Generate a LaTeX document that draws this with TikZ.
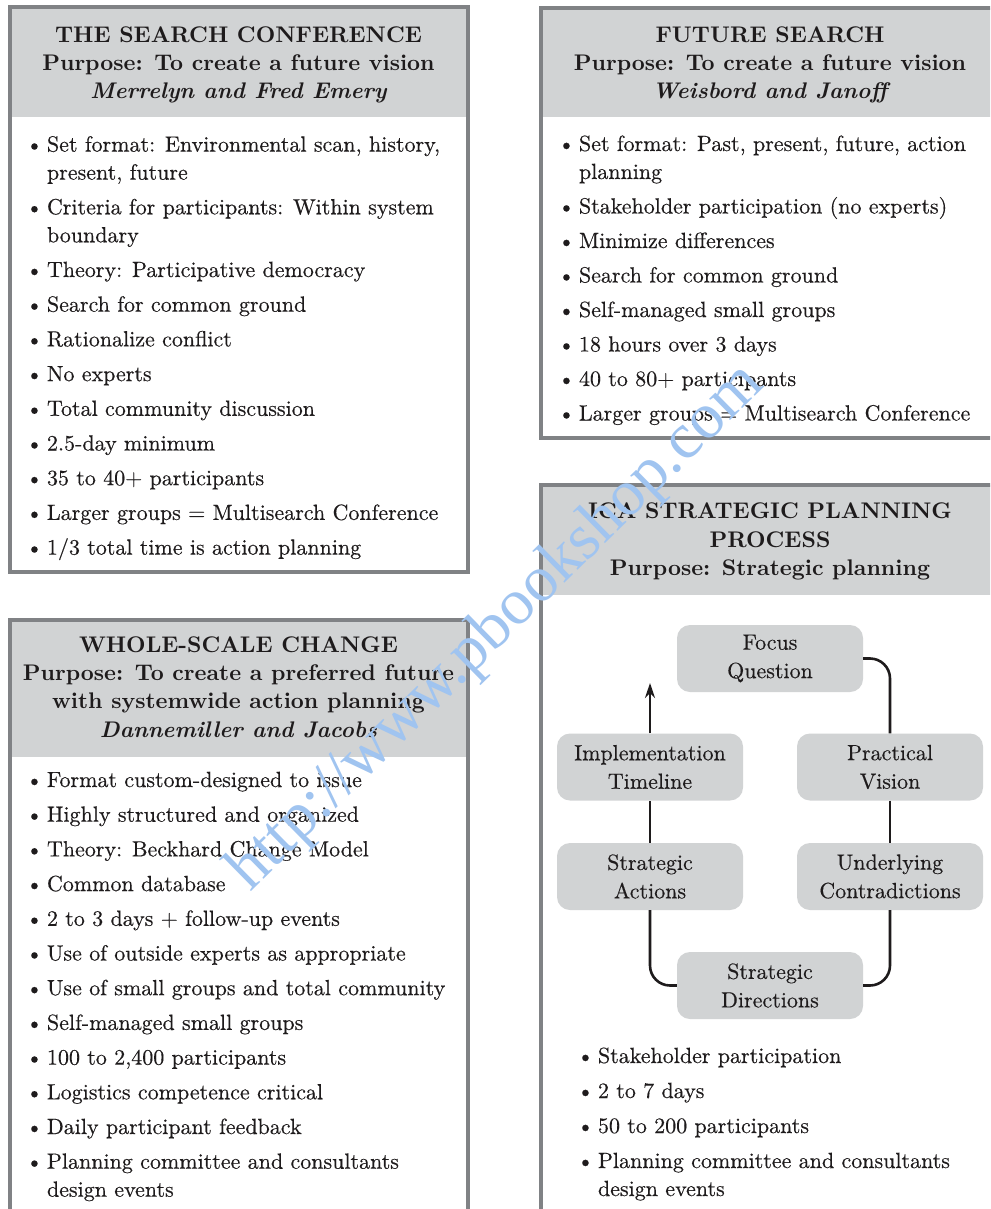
\documentclass[tikz,border=0pt]{standalone}
\usepackage{fontspec}
\setmainfont{lmroman10-regular.otf}[BoldFont=lmroman10-bold.otf, ItalicFont=lmroman10-italic.otf, BoldItalicFont=lmroman10-bolditalic.otf]
\newfontfamily\bodyfont{lmroman10-regular.otf}[FakeBold=0.35]
\newfontfamily\wmfont{Liberation Serif}
\usetikzlibrary{arrows.meta}
\definecolor{hdr}{RGB}{209,211,212}
\definecolor{bord}{RGB}{128,130,133}
\definecolor{ink}{RGB}{30,27,28}
\definecolor{wmc}{RGB}{160,196,240}
\tikzset{
 txt/.style={anchor=base west, inner sep=0pt, outer sep=0pt, text=ink, font=\bodyfont\fontsize{22}{28}\selectfont},
 hd/.style={anchor=base, inner sep=0pt, outer sep=0pt, text=ink, font=\fontsize{22.6}{28}\selectfont\bfseries},
 hdi/.style={hd, font=\fontsize{22.6}{28}\selectfont\bfseries\itshape},
 frame/.style={draw=bord, line width=4pt},
 hdrfill/.style={fill=hdr},
 proc/.style={rounded corners=13pt, fill=hdr, minimum width=186pt, minimum height=67pt, align=center, inner sep=0pt, text=ink, font=\bodyfont\fontsize{22}{28.5}\selectfont},
 conn/.style={draw=ink, line width=2.6pt, rounded corners=20pt},
 wm/.style={text=wmc, font=\wmfont\fontsize{65}{65}\selectfont, inner sep=0pt}
}
\newcommand\bul{\llap{\textbullet\hspace{4pt}}}
\begin{document}
\begin{tikzpicture}[x=1pt,y=-1pt]
\useasboundingbox (0,0) rectangle (990,1209);
\clip (0,0) rectangle (990,1209);
\fill[white] (0,0) rectangle (990,1209);
% ---------- Box 1: Search Conference
\fill[hdrfill] (9.5,7.5) rectangle (467.5,117);
\draw[frame] (9.5,7.5) rectangle (467.5,572);
\node[hd] (ha1) at (238.5,42.5) {THE SEARCH CONFERENCE};
\node[hd] (ha2) at (238.5,70.5) {Purpose: To create a future vision};
\node[hdi] (ha3) at (238.5,98.5) {Merrelyn and Fred Emery};
\node[txt] (a1) at (47,151.6) {\bul Set format: Environmental scan, history,};
\node[txt] (a2) at (47,179.6) {present, future};
\node[txt] (a3) at (47,214.3) {\bul Criteria for participants: Within system};
\node[txt] (a4) at (47,242.3) {boundary};
\node[txt] (a5) at (47,277) {\bul Theory: Participative democracy};
\node[txt] (a6) at (47,311.7) {\bul Search for common ground};
\node[txt] (a7) at (47,346.4) {\bul Rationalize conflict};
\node[txt] (a8) at (47,381.1) {\bul No experts};
\node[txt] (a9) at (47,415.8) {\bul Total community discussion};
\node[txt] (a10) at (47,450.5) {\bul 2.5-day minimum};
\node[txt] (a11) at (47,485.2) {\bul 35 to 40+ participants};
\node[txt] (a12) at (47,519.9) {\bul Larger groups = Multisearch Conference};
\node[txt] (a13) at (47,554.6) {\bul 1/3 total time is action planning};
% ---------- Box 2: Whole-scale change
\fill[hdrfill] (9.5,620) rectangle (467.5,757);
\draw[frame] (9.5,1240) -- (9.5,620) -- (467.5,620) -- (467.5,1240);
\node[hd] (hb1) at (238.5,652) {WHOLE-SCALE CHANGE};
\node[hd] (hb2) at (238.5,680) {Purpose: To create a preferred future};
\node[hd] (hb3) at (238.5,708.5) {with systemwide action planning};
\node[hdi] (hb4) at (238.5,737) {Dannemiller and Jacobs};
\node[txt] (b1) at (47,787) {\bul Format custom-designed to issue};
\node[txt] (b2) at (47,821.7) {\bul Highly structured and organized};
\node[txt] (b3) at (47,856.4) {\bul Theory: Beckhard Change Model};
\node[txt] (b4) at (47,891.1) {\bul Common database};
\node[txt] (b5) at (47,925.8) {\bul 2 to 3 days + follow-up events};
\node[txt] (b6) at (47,960.5) {\bul Use of outside experts as appropriate};
\node[txt] (b7) at (47,995.2) {\bul Use of small groups and total community};
\node[txt] (b8) at (47,1029.9) {\bul Self-managed small groups};
\node[txt] (b9) at (47,1064.6) {\bul 100 to 2,400 participants};
\node[txt] (b10) at (47,1099.3) {\bul Logistics competence critical};
\node[txt] (b11) at (47,1134) {\bul Daily participant feedback};
\node[txt] (b12) at (47,1168.7) {\bul Planning committee and consultants};
\node[txt] (b13) at (47,1196.7) {design events};
% ---------- Box 3: Future Search
\fill[hdrfill] (541,8) rectangle (1000,117);
\draw[frame] (1010,8) -- (541,8) -- (541,438) -- (1010,438);
\node[hd] (hc1) at (770,42.5) {FUTURE SEARCH};
\node[hd] (hc2) at (770,70.5) {Purpose: To create a future vision};
\node[hdi] (hc3) at (770,98.5) {Weisbord and Janoff};
\node[txt] (c1) at (579,151) {\bul Set format: Past, present, future, action};
\node[txt] (c2) at (579,179) {planning};
\node[txt] (c3) at (579,213.5) {\bul Stakeholder participation (no experts)};
\node[txt] (c4) at (579,248) {\bul Minimize differences};
\node[txt] (c5) at (579,282.5) {\bul Search for common ground};
\node[txt] (c6) at (579,317) {\bul Self-managed small groups};
\node[txt] (c7) at (579,351.5) {\bul 18 hours over 3 days};
\node[txt] (c8) at (579,386) {\bul 40 to 80+ participants};
\node[txt] (c9) at (579,420.5) {\bul Larger groups = Multisearch Conference};
% ---------- Box 4: ICA
\fill[hdrfill] (541,485) rectangle (1000,595);
\draw[frame] (1010,485) -- (541,485) -- (541,1240);
\node[hd] (hd1) at (770,518) {ICA STRATEGIC PLANNING};
\node[hd] (hd2) at (770,547) {PROCESS};
\node[hd] (hd3) at (770,575) {Purpose: Strategic planning};
\node[proc] (FQ) at (770,658.5) {Focus\\Question};
\node[proc] (IT) at (650,767) {Implementation\\Timeline};
\node[proc] (PV) at (890,767) {Practical\\Vision};
\node[proc] (SA) at (650,876.5) {Strategic\\Actions};
\node[proc] (UC) at (890,876.5) {Underlying\\Contradictions};
\node[proc] (SD) at (770,985.5) {Strategic\\Directions};
\coordinate (tip) at (650,683);
\draw[conn] (FQ.east) -| (PV.north);
\draw[conn] (PV.south) -- (UC.north);
\draw[conn] (UC.south) |- (SD.east);
\draw[conn] (SD.west) -| (SA.south);
\draw[conn] (SA.north) -- (IT.south);
\draw[conn,-{Stealth[length=15pt,width=10pt,inset=5pt]}] (IT.north) -- (tip);
\node[txt] (d1) at (598,1063) {\bul Stakeholder participation};
\node[txt] (d2) at (598,1098) {\bul 2 to 7 days};
\node[txt] (d3) at (598,1133) {\bul 50 to 200 participants};
\node[txt] (d4) at (598,1168) {\bul Planning committee and consultants};
\node[txt] (d5) at (598,1196) {design events};
% ---------- watermark
\node[wm, rotate=44.5] (wmk) at (497,628) {http://www.pbookshop.com};
\end{tikzpicture}
\end{document}
